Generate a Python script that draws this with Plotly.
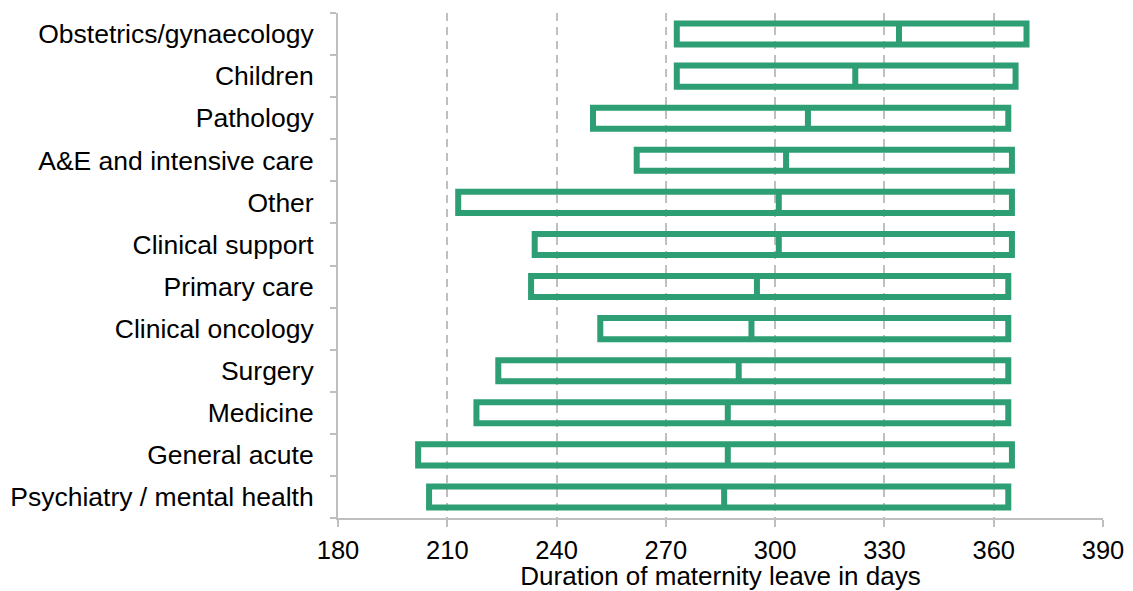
import plotly.graph_objects as go

categories = [
    "Psychiatry / mental health",
    "General acute",
    "Medicine",
    "Surgery",
    "Clinical oncology",
    "Primary care",
    "Clinical support",
    "Other",
    "A&E and intensive care",
    "Pathology",
    "Children",
    "Obstetrics/gynaecology",
]
q1_days = [205, 202, 218, 224, 252, 233, 234, 213, 262, 250, 273, 273]
median_days = [286, 287, 287, 290, 293.5, 295, 301, 301, 303, 309, 322, 334]
q3_days = [364, 365, 364, 364, 364, 364, 365, 365, 365, 364, 366, 369]
x_ticks = [180, 210, 240, 270, 300, 330, 360, 390]

GREEN = "#2E9E74"
GREY = "#BFBFBF"
FONT = "Liberation Sans, Arial, sans-serif"

fig = go.Figure()
fig.add_trace(go.Box(
    y=categories,
    q1=q1_days,
    median=median_days,
    q3=q3_days,
    lowerfence=q1_days,
    upperfence=q3_days,
    orientation="h",
    width=0.5,
    whiskerwidth=0,
    fillcolor="rgba(0,0,0,0)",
    line=dict(color=GREEN, width=6),
    boxpoints=False,
    showlegend=False,
    hoverinfo="skip",
))

fig.update_layout(
    width=1133,
    height=591,
    margin=dict(l=338, r=30, t=13, b=73),
    plot_bgcolor="white",
    paper_bgcolor="white",
    font=dict(family=FONT, size=26.5, color="#000000"),
    xaxis=dict(
        range=[180, 390],
        tickvals=x_ticks,
        ticktext=[str(v) for v in x_ticks],
        showgrid=True,
        gridcolor=GREY,
        gridwidth=1.5,
        griddash="8px,6px",
        showline=True,
        linecolor=GREY,
        linewidth=2,
        ticks="outside",
        ticklen=7,
        tickcolor=GREY,
        tickwidth=1.5,
        zeroline=False,
        automargin=False,
        ticklabelstandoff=1,
        title=dict(text="Duration of maternity leave in days", standoff=0,
                   font=dict(size=26)),
        tickfont=dict(size=25.5),
    ),
    yaxis=dict(
        type="category",
        categoryorder="array",
        categoryarray=categories,
        range=[-0.5, len(categories) - 0.5],
        showgrid=False,
        showline=True,
        linecolor=GREY,
        linewidth=2,
        ticks="outside",
        tickson="boundaries",
        ticklen=6,
        tickcolor=GREY,
        tickwidth=1.5,
        zeroline=False,
        automargin=False,
        tickfont=dict(size=26.5),
        ticklabelstandoff=17,
    ),
)

fig.write_html("out.html", config={"displayModeBar": False},
               post_script="document.body.style.margin='0';")
